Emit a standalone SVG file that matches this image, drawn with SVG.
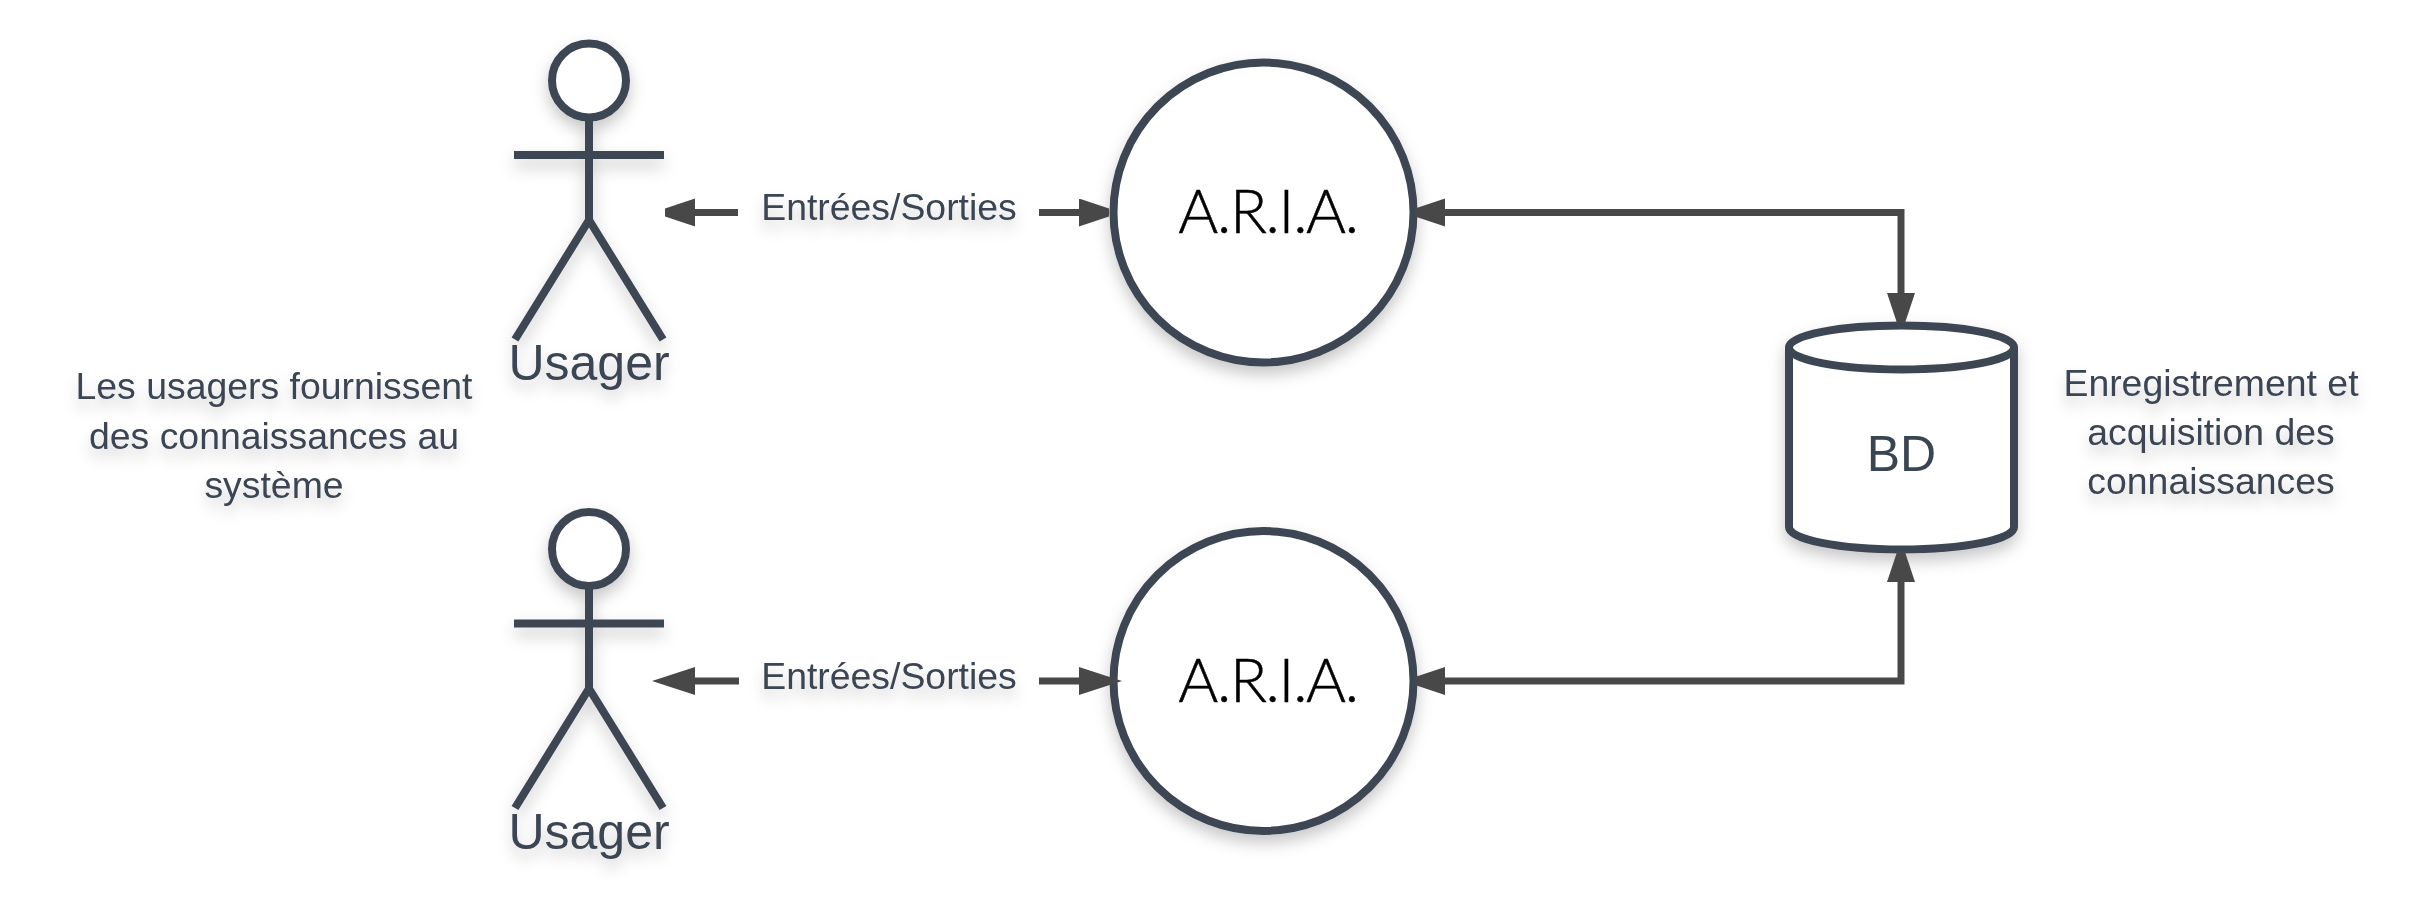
<svg xmlns="http://www.w3.org/2000/svg" width="2431" height="899" viewBox="0 0 2431 899">
<defs>
<filter id="sh" x="-30%" y="-30%" width="160%" height="170%"><feDropShadow dx="0" dy="8" stdDeviation="8" flood-color="#000" flood-opacity="0.22"/></filter>
<filter id="ts" x="-10%" y="-30%" width="120%" height="190%"><feDropShadow dx="0" dy="9" stdDeviation="7" flood-color="#000" flood-opacity="0.2"/></filter>
<marker id="full" markerUnits="userSpaceOnUse" markerWidth="44" markerHeight="30" refX="1" refY="14" orient="auto-start-reverse" viewBox="0 0 44 30"><path d="M0 0L43 14L0 28Z" fill="#484848"/></marker>
<marker id="cut" markerUnits="userSpaceOnUse" markerWidth="44" markerHeight="30" refX="1" refY="14" orient="auto-start-reverse" viewBox="0 0 44 30"><path d="M0 0L30 10L30 18L0 28Z" fill="#484848"/></marker>
<g id="actor"><circle class="ln fw" cx="589" cy="80.5" r="37"/><path class="ln" d="M589 117.500V220M514 155H664M589 220L515 339.500M589 220L663 339.500"/></g>
</defs>
<style>
text{font-family:"Liberation Sans",Arial,sans-serif;fill:#3a4552;text-anchor:middle}
.t{font-size:37.4px;filter:url(#ts)}
.s{font-size:50px;filter:url(#ts)}
.b{font-size:50px}
.r{font-family:"Lato",sans-serif;font-size:61px;fill:#000;font-weight:300;letter-spacing:-1.3px;stroke:#000;stroke-width:.5}
.ln{stroke:#3d4753;stroke-width:8;fill:none}
.fw{fill:#fff}
.sh{filter:url(#sh)}
.c{stroke:#484848;stroke-width:7;fill:none}
</style>
<rect width="2431" height="899" fill="#fff"/>
<g id="actor1"><use href="#actor" class="sh"/><text class="s" x="589" y="380">Usager</text></g>
<g id="actor2"><use href="#actor" class="sh" y="468.5"/><text class="s" x="589" y="849">Usager</text></g>
<g id="aria1"><circle class="ln fw sh" cx="1263.500" cy="212.500" r="150"/><text class="r" x="1268" y="233">A.R.I.A.</text></g>
<g id="aria2"><circle class="ln fw sh" cx="1263.500" cy="681" r="150"/><text class="r" x="1268" y="701.500">A.R.I.A.</text></g>
<g id="bd"><path class="ln fw sh" d="M1789 347.500C1789 335 1839 325.500 1901.500 325.500S2014 335 2014 347.500V527C2014 539.500 1964 549.500 1901.500 549.500S1789 539.500 1789 527Z"/><path class="ln" d="M1789 347.500C1789 360 1839 369.500 1901.500 369.500S2014 360 2014 347.500"/><text class="b" x="1901.500" y="471">BD</text></g>
<g id="note-left"><text class="t" x="274" y="399">Les usagers fournissent</text><text class="t" x="274" y="448.500">des connaissances au</text><text class="t" x="274" y="498">système</text></g>
<g id="note-right"><text class="t" x="2211" y="396">Enregistrement et</text><text class="t" x="2211" y="445">acquisition des</text><text class="t" x="2211" y="494">connaissances</text></g>
<g id="label1"><text class="t" x="889" y="220">Entrées/Sorties</text></g>
<g id="label2"><text class="t" x="889" y="689">Entrées/Sorties</text></g>
<g id="connectors">
<path class="c" d="M739 212.500H695" marker-end="url(#cut)" transform="translate(-1 0)"/>
<path class="c" d="M1039 212.500H1080" marker-end="url(#cut)"/>
<path class="c" d="M739 681H694" marker-end="url(#full)"/>
<path class="c" d="M1039 681H1080" marker-end="url(#full)"/>
<path class="c" d="M1444 212.500H1901V294" marker-start="url(#cut)" marker-end="url(#cut)"/>
<path class="c" d="M1444 681H1901V581" marker-start="url(#cut)" marker-end="url(#cut)"/>
</g>
</svg>
